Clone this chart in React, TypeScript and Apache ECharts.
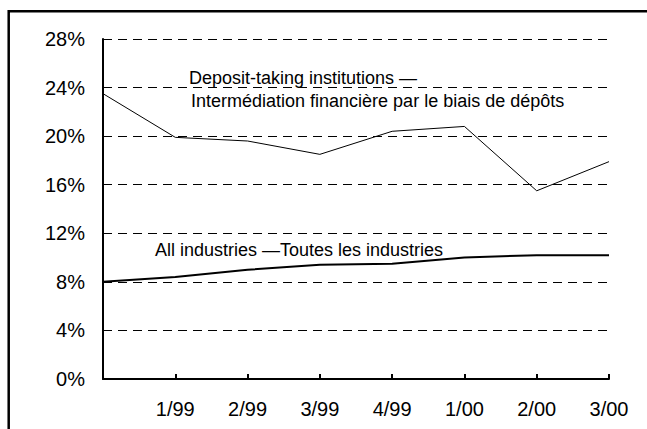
import React, { useEffect, useRef } from "react";
import * as echarts from "echarts";

const categories = ["", "1/99", "2/99", "3/99", "4/99", "1/00", "2/00", "3/00"];
const depositTaking = [23.5, 19.9, 19.6, 18.5, 20.4, 20.8, 15.5, 17.9];
const allIndustries = [8.0, 8.4, 9.0, 9.4, 9.5, 10.0, 10.2, 10.2];
const depositLabel1 = "Deposit-taking institutions \u2014";
const depositLabel2 = "Interm\u00e9diation financi\u00e8re par le biais de d\u00e9p\u00f4ts";
const allLabel = "All industries \u2014Toutes les industries";

const FONT = "'Liberation Sans', Arial, sans-serif";

export default function App() {
  const ref = useRef<HTMLDivElement>(null);
  useEffect(() => {
    document.body.style.margin = "0";
    const chart = echarts.init(ref.current!, null, { renderer: "svg" });
    chart.setOption({
      animation: false,
      backgroundColor: "#ffffff",
      grid: { left: 103, right: 38, top: 39, bottom: 50 },
      xAxis: {
        type: "category",
        data: categories,
        boundaryGap: false,
        axisLine: { show: true, lineStyle: { color: "#000", width: 2 } },
        axisTick: { show: true, inside: true, length: 5, lineStyle: { color: "#000", width: 2 } },
        axisLabel: { interval: 0, color: "#000", fontSize: 20, fontFamily: FONT, margin: 20 },
        splitLine: { show: false },
      },
      yAxis: {
        type: "value",
        min: 0,
        max: 28,
        interval: 4,
        axisLine: { show: true, lineStyle: { color: "#000", width: 2 } },
        axisTick: { show: false },
        axisLabel: { formatter: "{value}%", color: "#000", fontSize: 20, fontFamily: FONT, margin: 18 },
        splitLine: { show: true, lineStyle: { color: "#000", width: 1, type: [9, 6] } },
      },
      series: [
        {
          type: "line",
          data: depositTaking,
          symbol: "none",
          lineStyle: { color: "#000", width: 1 },
        },
        {
          type: "line",
          data: allIndustries,
          symbol: "none",
          lineStyle: { color: "#000", width: 2 },
        },
      ],
      graphic: [
        {
          type: "polyline",
          shape: { points: [[8.7, 440], [8.7, 11.3], [660, 11.3]] },
          style: { stroke: "#000", lineWidth: 2.5, fill: null },
        },
        {
          type: "text",
          x: 189,
          y: 78,
          style: { text: depositLabel1, fill: "#000", fontSize: 18, fontFamily: FONT, verticalAlign: "middle" },
        },
        {
          type: "text",
          x: 191,
          y: 101,
          style: { text: depositLabel2, fill: "#000", fontSize: 18, fontFamily: FONT, verticalAlign: "middle" },
        },
        {
          type: "text",
          x: 155,
          y: 250,
          style: { text: allLabel, fill: "#000", fontSize: 18, fontFamily: FONT, verticalAlign: "middle" },
        },
      ],
    });
    return () => chart.dispose();
  }, []);
  return <div ref={ref} style={{ width: 647, height: 429 }} />;
}
